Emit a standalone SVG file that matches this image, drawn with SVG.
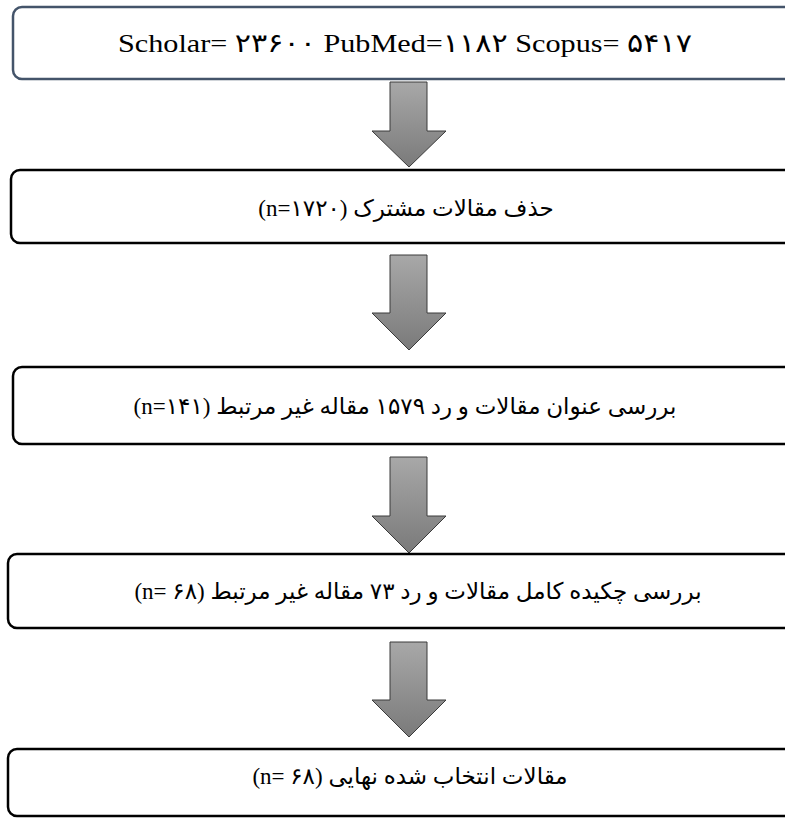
<svg xmlns="http://www.w3.org/2000/svg" width="785" height="821" viewBox="0 0 785 821">
<defs>
<linearGradient id="ag" x1="0" y1="0" x2="0" y2="1">
<stop offset="0" stop-color="#a8a8a8"/>
<stop offset="1" stop-color="#7a7a7a"/>
</linearGradient>
<style>
.box{fill:#ffffff;stroke:#000000;stroke-width:2.5}
.box1{stroke:#44546a}
.arr{fill:url(#ag);stroke:#3a3a3a;stroke-width:1}
.t{font-family:"Liberation Serif","DejaVu Sans",serif;font-size:23px;fill:#000000;text-anchor:middle}
.t1{font-size:26px}
</style>
</defs>
<rect width="785" height="821" fill="#ffffff"/>
<g id="connectors">
<path class="arr" d="M390,82 H427 V131 H446 L409,167 L372,131 H390 Z"/>
<path class="arr" d="M390,255 H427 V313 H446 L409,350 L372,313 H390 Z"/>
<path class="arr" d="M390,457 H427 V516 H446 L409,553 L372,516 H390 Z"/>
<path class="arr" d="M390,642 H427 V700 H446 L409,737 L372,700 H390 Z"/>
</g>
<g id="node1">
<rect class="box box1" x="13" y="7" width="800" height="72" rx="9"/>
<text class="t t1" x="405" y="52" textLength="574" lengthAdjust="spacingAndGlyphs">Scholar= ۲۳۶۰۰ PubMed=۱۱۸۲  Scopus= ۵۴۱۷</text>
</g>
<g id="node2">
<rect class="box" x="11" y="170" width="800" height="73" rx="9"/>
<text class="t" x="406" y="216">(n=۱۷۲۰) حذف مقالات مشترک</text>
</g>
<g id="node3">
<rect class="box" x="13" y="367" width="800" height="77" rx="9"/>
<text class="t" x="405" y="414">(n=۱۴۱) بررسی عنوان مقالات و رد ۱۵۷۹ مقاله غیر مرتبط</text>
</g>
<g id="node4">
<rect class="box" x="8" y="554" width="800" height="74" rx="9"/>
<text class="t" x="418" y="599">(n= ۶۸) بررسی چکیده کامل مقالات و رد ۷۳ مقاله غیر مرتبط</text>
</g>
<g id="node5">
<rect class="box" x="8" y="749" width="800" height="67" rx="9"/>
<text class="t" x="410" y="784">(n= ۶۸) مقالات انتخاب شده نهایی</text>
</g>
</svg>
